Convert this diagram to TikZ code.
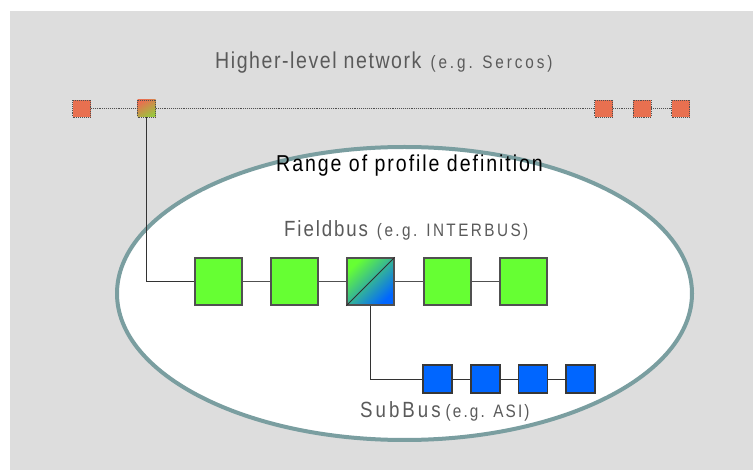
\documentclass[tikz,border=0pt]{standalone}
\usepackage{graphicx}
\usepackage{fontspec}
\setmainfont{Liberation Sans}
\definecolor{bgcol}{RGB}{221,221,221}
\definecolor{ringcol}{RGB}{122,158,160}
\definecolor{redsq}{RGB}{232,112,80}
\definecolor{greensq}{RGB}{102,255,51}
\definecolor{bluesq}{RGB}{0,102,255}
\definecolor{txtgray}{RGB}{90,90,90}
\definecolor{edgegray}{RGB}{80,80,80}
\newcommand{\nrw}[3]{\scalebox{0.85}[1]{\fontsize{#1}{#1}\selectfont\addfontfeatures{LetterSpace=#2}#3}}
\tikzset{
  topsq/.style={draw=edgegray, densely dotted, line width=0.9pt, fill=redsq, minimum width=18pt, minimum height=17pt, inner sep=0pt},
  fieldsq/.style={draw=edgegray, line width=1.3pt, fill=greensq, minimum size=47pt, inner sep=0pt},
  subsq/.style={draw=edgegray!70!black, line width=1.2pt, fill=bluesq, minimum width=29pt, minimum height=28pt, inner sep=0pt},
  busline/.style={draw=edgegray, line width=1.3pt},
  thinline/.style={draw=black!80, line width=0.9pt},
  toplink/.style={draw=edgegray, densely dotted, line width=0.9pt},
  lbl/.style={inner sep=0pt, text=txtgray, anchor=base west}
}
\begin{document}
\begin{tikzpicture}[x=1pt,y=-1pt]
\useasboundingbox (0,0) rectangle (753,470);
\fill[bgcol] (10,11) rectangle (753,470);
% range ellipse
\draw[ringcol, line width=4pt, fill=white] (404.5,293.5) ellipse [x radius=287.5, y radius=146.5];
% texts
\node[lbl] (ttop) at (215,68.5) {\nrw{23}{8}{Higher-level network}\hspace{9pt}\nrw{18}{19}{(e.g. Sercos)}};
\node[lbl, text=black] (trange) at (276,171.5) {\nrw{23}{10}{Range of profile definition}};
\node[lbl] (tfield) at (284,237) {\nrw{22}{10}{Fieldbus}\hspace{9pt}\nrw{18}{16}{(e.g. INTERBUS)}};
\node[lbl] (tsub) at (360,418) {\nrw{22}{16}{SubBus}\hspace{5pt}\nrw{18}{14}{(e.g. ASI)}};
% higher-level network nodes
\node[topsq] (r1) at (81.5,108.5) {};
\node[topsq, top color=redsq, bottom color=greensq!60!redsq, shading angle=30] (g0) at (146.5,108.5) {};
\node[topsq] (r2) at (603.5,108.5) {};
\node[topsq] (r3) at (642,108.5) {};
\node[topsq] (r4) at (680.5,108.5) {};
\draw[toplink] (r1) -- (g0) -- (r2) -- (r3) -- (r4);
% fieldbus nodes
\node[fieldsq] (f1) at (218.5,281.5) {};
\node[fieldsq] (f2) at (294.5,281.5) {};
\node[fieldsq, top color=greensq, bottom color=bluesq, shading angle=45] (gw) at (370.5,281.5) {};
\node[fieldsq] (f4) at (447.5,281.5) {};
\node[fieldsq] (f5) at (523.5,281.5) {};
\draw[thinline] (g0.south) |- (f1.west);
\draw[busline] (f1) -- (f2) (f2) -- (gw) (gw) -- (f4) (f4) -- (f5);
\draw[edgegray!60!black, line width=1pt] (gw.south west) -- (gw.north east);
% subbus nodes
\node[subsq] (s1) at (437.5,379) {};
\node[subsq] (s2) at (485.5,379) {};
\node[subsq] (s3) at (533,379) {};
\node[subsq] (s4) at (580.5,379) {};
\draw[thinline] (gw.south) |- (s1.west);
\draw[thinline] (s1) -- (s2) (s2) -- (s3) (s3) -- (s4);
\end{tikzpicture}
\end{document}
